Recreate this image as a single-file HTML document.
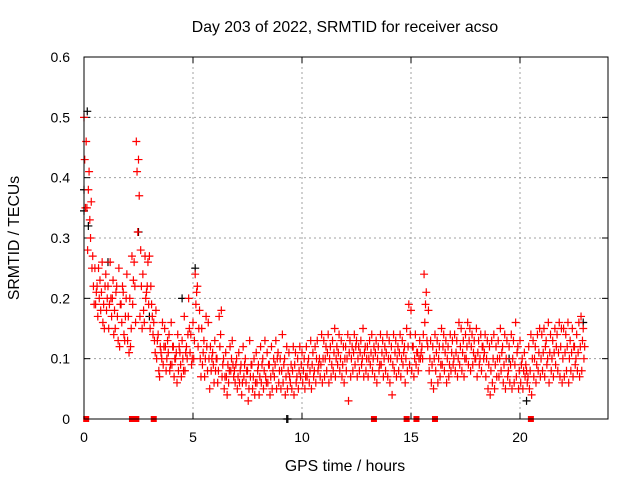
<!DOCTYPE html>
<html><head><meta charset="utf-8"><style>
html,body{margin:0;padding:0;background:#fff}
svg{display:block;font-family:"Liberation Sans",sans-serif}
</style></head><body>
<svg id="chart" width="640" height="480" viewBox="0 0 640 480">
<rect width="640" height="480" fill="#fff"/>
<text x="345" y="32" font-size="15.8" text-anchor="middle">Day 203 of 2022, SRMTID for receiver acso</text>
<g id="grid"></g>
<g id="ticks"></g>
<g id="marks"></g>
<rect x="84" y="57" width="524" height="362" fill="none" stroke="#000" stroke-width="1"/>
<text x="345" y="471" font-size="15.8" text-anchor="middle">GPS time / hours</text>
<text x="19" y="238" font-size="15.8" text-anchor="middle" transform="rotate(-90 19 238)">SRMTID / TECUs</text>
</svg>
<script>
const xTicks=[0,5,10,15,20];
const yTicks=[0,0.1,0.2,0.3,0.4,0.5,0.6];
const yTickLabels=["0","0.1","0.2","0.3","0.4","0.5","0.6"];
const slotHours=0.1;
const valsA=[.50,.46,.38,.30,.27,.25,.22,.2,.21,.19,.24,.22,.26,.2,.18,.22,.25,.19,.21,.17,.13,.2,.27,.26,.46,.43,.28,.24,.27,.22,.27,.19,.16,.18,.14,.12,.16,.15,.1,.14,.16,.12,.1,.14,.11,.13,.17,.12,.2,.14,.16,.24,.22,.18,.15,.13,.17,.16,.12,.11,.13,.1,.17,.18,.1,.11,.09,.12,.13,.08,.1,.11,.09,.12,.1,.08,.13,.09,.1,.11,.09,.12,.1,.13,.11,.09,.12,.1,.13,.11,.1,.14,.1,.12,.11,.09,.12,.11,.1,.12,.11,.1,.12,.1,.13,.11,.12,.13,.1,.14,.13,.12,.14,.12,.13,.15,.12,.14,.13,.12,.12,.14,.13,.12,.14,.13,.12,.13,.15,.12,.12,.13,.14,.12,.13,.12,.14,.13,.12,.14,.13,.12,.14,.13,.12,.14,.13,.12,.15,.19,.18,.12,.14,.11,.13,.12,.24,.21,.18,.13,.12,.14,.13,.12,.15,.14,.13,.12,.14,.13,.14,.13,.16,.15,.13,.14,.16,.15,.14,.13,.15,.13,.14,.12,.14,.13,.12,.13,.14,.12,.13,.15,.12,.14,.13,.12,.14,.13,.16,.12,.13,.1,.11,.08,.12,.14,.13,.12,.14,.15,.14,.15,.13,.16,.14,.13,.15,.14,.16,.15,.15,.14,.16,.13,.15,.12,.14,.16,.17,.15];
const valsB=[.43,.35,.41,.36,.22,.19,.17,.23,.26,.15,.18,.15,.2,.23,.15,.17,.12,.16,.14,.2,.17,.12,.19,.22,.41,.37,.22,.18,.2,.26,.15,.17,.13,.1,.08,.11,.09,.12,.13,.08,.09,.07,.11,.08,.09,.1,.08,.1,.15,.09,.1,.19,.12,.1,.09,.07,.12,.1,.08,.09,.08,.06,.12,.07,.05,.07,.06,.08,.09,.06,.05,.06,.04,.07,.06,.03,.07,.05,.04,.06,.04,.06,.05,.07,.06,.04,.05,.07,.05,.06,.05,.06,.04,.05,.07,.05,.04,.06,.05,.07,.06,.05,.07,.06,.05,.07,.06,.08,.07,.06,.07,.08,.06,.07,.08,.07,.09,.08,.07,.06,.08,.03,.07,.08,.09,.07,.08,.09,.07,.08,.07,.09,.08,.07,.06,.08,.09,.07,.08,.07,.06,.04,.08,.07,.08,.07,.09,.06,.08,.09,.08,.07,.09,.08,.1,.1,.16,.13,.08,.06,.05,.08,.06,.07,.09,.08,.06,.07,.08,.09,.08,.07,.09,.08,.07,.1,.09,.08,.09,.1,.07,.09,.08,.1,.07,.05,.04,.06,.05,.07,.07,.08,.06,.05,.07,.06,.05,.06,.07,.05,.06,.05,.07,.06,.05,.04,.07,.06,.08,.07,.08,.07,.09,.06,.08,.07,.09,.08,.07,.06,.07,.08,.06,.08,.07,.09,.08,.07,.08,.1];
const valsC=[.35,.28,.33,.25,.19,.21,.25,.18,.16,.22,.2,.19,.17,.14,.21,.13,.19,.22,.13,.24,.11,.15,.23,.16,.31,.17,.15,.16,.21,.19,.22,.14,.11,.13,.07,.1,.12,.08,.11,.09,.12,.1,.06,.12,.07,.08,.11,.14,.11,.1,.13,.21,.15,.07,.11,.1,.08,.05,.1,.06,.1,.08,.14,.09,.07,.04,.08,.1,.07,.09,.07,.08,.06,.09,.08,.05,.09,.07,.06,.08,.07,.09,.08,.06,.09,.07,.08,.09,.1,.08,.08,.09,.07,.08,.06,.08,.09,.07,.08,.09,.08,.07,.09,.08,.09,.08,.1,.09,.09,.1,.1,.11,.1,.09,.11,.1,.11,.1,.09,.1,.1,.11,.1,.11,.12,.1,.11,.1,.11,.1,.1,.11,.1,.11,.1,.09,.11,.1,.11,.1,.1,.09,.11,.1,.11,.1,.11,.1,.12,.14,.12,.1,.11,.1,.11,.14,.19,.12,.1,.09,.1,.11,.1,.09,.12,.11,.1,.09,.11,.1,.11,.1,.12,.11,.1,.12,.13,.12,.11,.1,.11,.1,.12,.11,.1,.09,.08,.1,.09,.1,.1,.11,.09,.1,.08,.09,.1,.09,.11,.08,.09,.08,.09,.07,.08,.1,.1,.09,.11,.1,.11,.12,.1,.11,.1,.11,.12,.11,.12,.1,.11,.12,.1,.11,.12,.1,.11,.12,.13,.12];
const blackHours=[0,0,0.15,0.2,1.1,2.5,3.0,4.5,5.1,9.3,9.35,19.5,20.3,22.9];
const blackVals=[0.38,0.345,0.51,0.32,0.26,0.31,0.17,0.2,0.25,0,0,0.1,0.03,0.16];
const zeroHours=[0.1,2.2,2.3,2.4,3.2,13.3,14.8,15.25,16.1,20.5];

const X0=84,XS=21.8,Y0=419,YS=603.3;
const xs=h=>X0+h*XS, ys=v=>Y0-v*YS;
const NS="http://www.w3.org/2000/svg";
const grid=document.getElementById('grid'),ticks=document.getElementById('ticks'),marks=document.getElementById('marks');
function mk(tag,attrs,parent){const e=document.createElementNS(NS,tag);for(const k in attrs)e.setAttribute(k,attrs[k]);parent.appendChild(e);return e;}
xTicks.forEach(t=>{
  const x=xs(t);
  if(t>0){const g=mk('line',{x1:x,y1:57,x2:x,y2:419,stroke:'#a0a0a0','stroke-dasharray':'2,3'},grid);
  
  }
  mk('line',{x1:x,y1:419,x2:x,y2:413,stroke:'#000'},ticks);
  mk('line',{x1:x,y1:57,x2:x,y2:63,stroke:'#000'},ticks);
  const tl=mk('text',{x:x,y:442,'font-size':14,'text-anchor':'middle'},ticks);
  tl.textContent=t;
  
  
});
yTicks.forEach((t,i)=>{
  const y=ys(t);
  if(i>0&&i<yTicks.length-1){const g=mk('line',{x1:84,y1:y,x2:608,y2:y,stroke:'#a0a0a0','stroke-dasharray':'2,3'},grid);
  
  }
  mk('line',{x1:84,y1:y,x2:90,y2:y,stroke:'#000'},ticks);
  mk('line',{x1:608,y1:y,x2:602,y2:y,stroke:'#000'},ticks);
  const tl=mk('text',{x:70,y:y+5,'font-size':14,'text-anchor':'end'},ticks);
  tl.textContent=yTickLabels[i];
  
  
});
function cross(h,v,color,name){
  const x=xs(h),y=ys(v);
  const p=mk('path',{d:`M${x-4},${y}H${x+4}M${x},${y-4}V${y+4}`,stroke:color,'stroke-width':1.2,fill:'none'},marks);
  
  
}
blackHours.forEach((h,i)=>cross(h,blackVals[i],'#000','black-point'));
[valsA,valsB,valsC].forEach((arr,s)=>arr.forEach((v,i)=>cross(i*slotHours+s*0.033,v,'#ff0000','red-point')));
zeroHours.forEach(h=>{
  const r=mk('rect',{x:xs(h)-3,y:416,width:6,height:6,fill:'#ff0000'},marks);
  
  
});
</script>
</body></html>
